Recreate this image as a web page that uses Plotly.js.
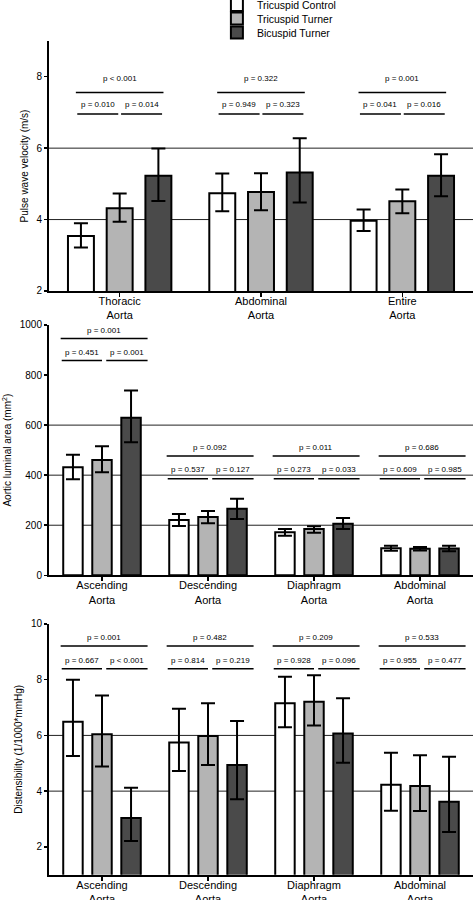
<!DOCTYPE html>
<html>
<head>
<meta charset="utf-8">
<script src="https://cdn.plot.ly/plotly-3.0.1.min.js"></script>
<style>html,body{margin:0;padding:0;background:#fff;}#chart{width:473px;height:900px;}</style>
</head>
<body>
<div id="chart"></div>
<script>
// ---------- DATA ----------
const groupNames = ["Tricuspid Control", "Tricuspid Turner", "Bicuspid Turner"];

// Panel 1: pulse wave velocity (m/s)
const pwvCategories = ["Thoracic<br>Aorta", "Abdominal<br>Aorta", "Entire<br>Aorta"];
const pwvTricuspidControl = [3.54, 4.74, 3.97];
const pwvTricuspidControlErrUp = [0.36, 0.55, 0.31];
const pwvTricuspidControlErrDown = [0.32, 0.51, 0.29];
const pwvTricuspidTurner = [4.32, 4.77, 4.51];
const pwvTricuspidTurnerErrUp = [0.41, 0.53, 0.33];
const pwvTricuspidTurnerErrDown = [0.38, 0.51, 0.33];
const pwvBicuspidTurner = [5.23, 5.32, 5.23];
const pwvBicuspidTurnerErrUp = [0.76, 0.96, 0.60];
const pwvBicuspidTurnerErrDown = [0.71, 0.84, 0.58];
const pwvPOverall = ["p < 0.001", "p = 0.322", "p = 0.001"];
const pwvPLeft = ["p = 0.010", "p = 0.949", "p = 0.041"];
const pwvPRight = ["p = 0.014", "p = 0.323", "p = 0.016"];

// Panel 2: aortic luminal area (mm2)
const segCategories = ["Ascending<br>Aorta", "Descending<br>Aorta", "Diaphragm<br>Aorta", "Abdominal<br>Aorta"];
const areaTricuspidControl = [432, 221, 172, 108];
const areaTricuspidControlErrUp = [50, 24, 13, 10];
const areaTricuspidControlErrDown = [48, 24, 14, 10];
const areaTricuspidTurner = [461, 233, 185, 106];
const areaTricuspidTurnerErrUp = [55, 24, 11, 7];
const areaTricuspidTurnerErrDown = [49, 25, 15, 7];
const areaBicuspidTurner = [629, 266, 206, 107];
const areaBicuspidTurnerErrUp = [109, 40, 23, 11];
const areaBicuspidTurnerErrDown = [97, 41, 21, 11];
const areaPOverall = ["p = 0.001", "p = 0.092", "p = 0.011", "p = 0.686"];
const areaPLeft = ["p = 0.451", "p = 0.537", "p = 0.273", "p = 0.609"];
const areaPRight = ["p = 0.001", "p = 0.127", "p = 0.033", "p = 0.985"];

// Panel 3: distensibility (1/1000*mmHg)
const distTricuspidControl = [6.49, 5.75, 7.15, 4.23];
const distTricuspidControlErrUp = [1.51, 1.21, 0.96, 1.15];
const distTricuspidControlErrDown = [1.23, 1.03, 0.86, 0.93];
const distTricuspidTurner = [6.04, 5.98, 7.21, 4.18];
const distTricuspidTurnerErrUp = [1.39, 1.17, 0.95, 1.11];
const distTricuspidTurnerErrDown = [1.16, 1.04, 0.85, 0.89];
const distBicuspidTurner = [3.04, 4.94, 6.07, 3.62];
const distBicuspidTurnerErrUp = [1.08, 1.58, 1.26, 1.61];
const distBicuspidTurnerErrDown = [0.83, 1.23, 1.05, 1.09];
const distPOverall = ["p = 0.001", "p = 0.482", "p = 0.209", "p = 0.533"];
const distPLeft = ["p = 0.667", "p = 0.814", "p = 0.928", "p = 0.955"];
const distPRight = ["p < 0.001", "p = 0.219", "p = 0.096", "p = 0.477"];

// ---------- STYLE / LAYOUT ----------
const FONT = "Liberation Sans, Arial, Helvetica, sans-serif";
const barColors = ["#ffffff", "#b4b4b4", "#4a4a4a"];
const legendIds = ["legend", "legend2", "legend3"];

function makeBars(cats, series, ups, downs, xa, ya, showLegend) {
  return series.map((vals, i) => ({
    type: "bar",
    x: cats,
    y: vals,
    name: groupNames[i],
    xaxis: xa, yaxis: ya,
    legend: legendIds[i],
    showlegend: showLegend,
    marker: {color: barColors[i], line: {color: "#000", width: 2}},
    error_y: {type: "data", symmetric: false, array: ups[i], arrayminus: downs[i],
              color: "#000", thickness: 2, width: 7},
    hoverinfo: "skip"
  }));
}

const traces = [
  ...makeBars(pwvCategories,
    [pwvTricuspidControl, pwvTricuspidTurner, pwvBicuspidTurner],
    [pwvTricuspidControlErrUp, pwvTricuspidTurnerErrUp, pwvBicuspidTurnerErrUp],
    [pwvTricuspidControlErrDown, pwvTricuspidTurnerErrDown, pwvBicuspidTurnerErrDown],
    "x", "y", true),
  ...makeBars(segCategories,
    [areaTricuspidControl, areaTricuspidTurner, areaBicuspidTurner],
    [areaTricuspidControlErrUp, areaTricuspidTurnerErrUp, areaBicuspidTurnerErrUp],
    [areaTricuspidControlErrDown, areaTricuspidTurnerErrDown, areaBicuspidTurnerErrDown],
    "x2", "y2", false),
  ...makeBars(segCategories,
    [distTricuspidControl, distTricuspidTurner, distBicuspidTurner],
    [distTricuspidControlErrUp, distTricuspidTurnerErrUp, distBicuspidTurnerErrUp],
    [distTricuspidControlErrDown, distTricuspidTurnerErrDown, distBicuspidTurnerErrDown],
    "x3", "y3", false)
];

const shapes = [];
const annotations = [];

function refLines(values, yref) {
  values.forEach(v => shapes.push({type: "line", xref: "paper", x0: 0, x1: 1, yref: yref, y0: v, y1: v,
    layer: "below", line: {color: "#222", width: 1}}));
}
refLines([4, 6], "y");
refLines([200, 400, 600], "y2");
refLines([4, 6], "y3");

// brackets: offsets relative to category index
function brackets(pAll, pL, pR, xref, yref, geo, yLevels) {
  pAll.forEach((t, i) => {
    const lv = yLevels[i];
    const L = (a, b, y) => shapes.push({type: "line", xref: xref, yref: yref, x0: i + a, x1: i + b, y0: y, y1: y,
      line: {color: "#000", width: 1.5}});
    const T = (txt, a, b, y) => annotations.push({xref: xref, yref: yref, x: i + (a + b) / 2, y: y, text: txt,
      showarrow: false, font: {family: FONT, size: 8, color: "#000"}, xanchor: "center", yanchor: "middle"});
    L(geo.all[0], geo.all[1], lv.lineAll); T(t, geo.all[0], geo.all[1], lv.textAll);
    L(geo.left[0], geo.left[1], lv.linePair); T(pL[i], geo.left[0], geo.left[1], lv.textPair);
    L(geo.right[0], geo.right[1], lv.linePair); T(pR[i], geo.right[0], geo.right[1], lv.textPair);
  });
}
const geo3 = {all: [-0.31, 0.31], left: [-0.30, -0.01], right: [0.01, 0.30]};
const geo4 = {all: [-0.39, 0.43], left: [-0.38, 0.0], right: [0.04, 0.43]};
const lvPwv = {lineAll: 7.56, textAll: 7.96, linePair: 6.96, textPair: 7.22};
brackets(pwvPOverall, pwvPLeft, pwvPRight, "x", "y", geo3, [lvPwv, lvPwv, lvPwv]);
const lvAreaHigh = {lineAll: 946, textAll: 978, linePair: 858, textPair: 892};
const lvAreaLow = {lineAll: 477, textAll: 512, linePair: 386, textPair: 422};
brackets(areaPOverall, areaPLeft, areaPRight, "x2", "y2", geo4, [lvAreaHigh, lvAreaLow, lvAreaLow, lvAreaLow]);
const lvDist = {lineAll: 9.21, textAll: 9.51, linePair: 8.39, textPair: 8.70};
brackets(distPOverall, distPLeft, distPRight, "x3", "y3", geo4, [lvDist, lvDist, lvDist, lvDist]);

function xAxis(anchor, n) {
  return {anchor: anchor, type: "category", range: [-0.5, n - 0.5], showgrid: false, zeroline: false,
    showline: true, linecolor: "#000", linewidth: 2, ticks: "outside", ticklen: 4, tickwidth: 1.5,
    tickcolor: "#000", tickfont: {family: FONT, size: 11, color: "#000"}, ticklabelstandoff: -5,
    automargin: false, fixedrange: true};
}
function yAxis(anchor, domain, range, tickvals, title) {
  return {anchor: anchor, domain: domain, range: range, tickvals: tickvals, showgrid: false, zeroline: false,
    showline: true, linecolor: "#000", linewidth: 2, ticks: "outside", ticklen: 3, tickwidth: 1.5,
    tickcolor: "#000", tickfont: {family: FONT, size: 10, color: "#000"}, automargin: false,
    title: {text: title, font: {family: FONT, size: 10, color: "#000"}, standoff: 6}, fixedrange: true};
}

const legendBase = {xref: "paper", yref: "paper", x: 0.396, xanchor: "left", yanchor: "middle",
  bgcolor: "rgba(0,0,0,0)", borderwidth: 0, font: {family: FONT, size: 10.5, color: "#000"}};

const layout = {
  width: 473, height: 900,
  margin: {l: 49, r: 0, t: 0, b: 0, autoexpand: false},
  paper_bgcolor: "#fff", plot_bgcolor: "#fff",
  font: {family: FONT, color: "#000"},
  barmode: "group", bargap: 0.178, bargroupgap: 0.33,
  xaxis: xAxis("y", 3),
  yaxis: yAxis("x", [0.6767, 0.9544], [2, 9], [2, 4, 6, 8], "Pulse wave velocity (m/s)"),
  xaxis2: xAxis("y2", 4),
  yaxis2: yAxis("x2", [0.3608, 0.6389], [0, 1000], [0, 200, 400, 600, 800, 1000], "Aortic luminal area (mm<sup>2</sup>)"),
  xaxis3: xAxis("y3", 4),
  yaxis3: yAxis("x3", [0.0281, 0.3067], [1, 10], [2, 4, 6, 8, 10], "Distensibility (1/1000*mmHg)"),
  legend: Object.assign({}, legendBase, {y: 0.9944}),
  legend2: Object.assign({}, legendBase, {y: 0.9794}),
  legend3: Object.assign({}, legendBase, {y: 0.9639}),
  shapes: shapes,
  annotations: annotations
};

Plotly.newPlot("chart", traces, layout, {staticPlot: true, displayModeBar: false});
</script>
</body>
</html>
